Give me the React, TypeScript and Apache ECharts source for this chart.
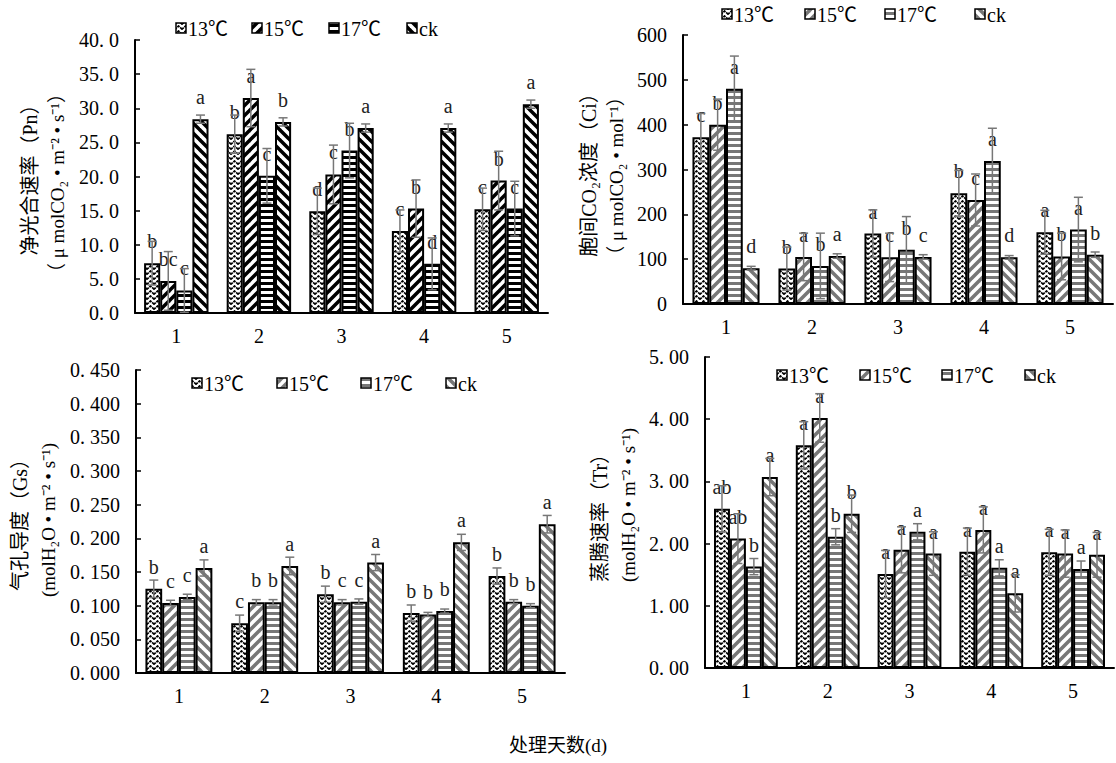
import React, { useEffect, useRef } from 'react';
import * as echarts from 'echarts';

const days = ['1', '2', '3', '4', '5'];
const treatments = ['13℃', '15℃', '17℃', 'ck'];

// 净光合速率 Pn
const pn13 = [7.3, 26.2, 14.9, 12.0, 15.2];
const pn15 = [4.7, 31.5, 20.3, 15.3, 19.4];
const pn17 = [3.3, 20.1, 23.8, 7.2, 15.3];
const pnCk = [28.4, 28.0, 27.1, 27.1, 30.6];
const pn13Err = [3.2, 2.8, 3.4, 3.1, 3.1];
const pn15Err = [4.3, 4.2, 4.3, 4.2, 4.3];
const pn17Err = [3.2, 4.0, 4.0, 3.8, 4.0];
const pnCkErr = [0.6, 0.6, 0.6, 0.6, 0.6];
const pn13Sig = ['b', 'b', 'd', 'c', 'c'];
const pn15Sig = ['bc', 'a', 'c', 'b', 'b'];
const pn17Sig = ['c', 'c', 'b', 'd', 'c'];
const pnCkSig = ['a', 'b', 'a', 'a', 'a'];

// 胞间CO2浓度 Ci
const ci13 = [372, 79, 157, 247, 160];
const ci15 = [400, 105, 104, 232, 106];
const ci17 = [480, 85, 121, 319, 166];
const ciCk = [80, 107, 105, 104, 110];
const ci13Err = [53, 48, 53, 51, 49];
const ci15Err = [57, 53, 54, 58, 52];
const ci17Err = [73, 73, 74, 73, 72];
const ciCkErr = [4, 5, 5, 4, 6];
const ci13Sig = ['c', 'b', 'a', 'b', 'a'];
const ci15Sig = ['b', 'a', 'c', 'c', 'b'];
const ci17Sig = ['a', 'b', 'b', 'a', 'a'];
const ciCkSig = ['d', 'a', 'c', 'd', 'b'];

// 气孔导度 Gs
const gs13 = [0.125, 0.074, 0.117, 0.089, 0.144];
const gs15 = [0.104, 0.105, 0.105, 0.087, 0.106];
const gs17 = [0.113, 0.105, 0.106, 0.092, 0.1];
const gsCk = [0.156, 0.159, 0.164, 0.194, 0.221];
const gs13Err = [0.013, 0.012, 0.012, 0.012, 0.012];
const gs15Err = [0.004, 0.004, 0.004, 0.003, 0.003];
const gs17Err = [0.004, 0.004, 0.004, 0.003, 0.003];
const gsCkErr = [0.012, 0.013, 0.012, 0.012, 0.013];
const gs13Sig = ['b', 'c', 'b', 'b', 'b'];
const gs15Sig = ['c', 'b', 'c', 'b', 'b'];
const gs17Sig = ['c', 'b', 'c', 'b', 'b'];
const gsCkSig = ['a', 'a', 'a', 'a', 'a'];

// 蒸腾速率 Tr
const tr13 = [2.56, 3.58, 1.51, 1.87, 1.86];
const tr15 = [2.08, 4.02, 1.9, 2.22, 1.84];
const tr17 = [1.63, 2.11, 2.19, 1.61, 1.59];
const trCk = [3.07, 2.48, 1.84, 1.2, 1.82];
const tr13Err = [0.37, 0.38, 0.38, 0.38, 0.37];
const tr15Err = [0.4, 0.39, 0.37, 0.37, 0.38];
const tr17Err = [0.13, 0.13, 0.13, 0.13, 0.13];
const trCkErr = [0.3, 0.3, 0.35, 0.3, 0.36];
const tr13Sig = ['ab', 'a', 'a', 'a', 'a'];
const tr15Sig = ['ab', 'a', 'a', 'a', 'a'];
const tr17Sig = ['b', 'b', 'a', 'a', 'a'];
const trCkSig = ['a', 'b', 'a', 'a', 'a'];

const yNames = [
  ['净光合速率（Pn）', '（ μ molCO₂ • m⁻² • s⁻¹）'],
  ['胞间CO₂浓度（Ci）', '（ μ molCO₂ • mol⁻¹）'],
  ['气孔导度（Gs）', '(molH₂O • m⁻² • s⁻¹)'],
  ['蒸腾速率（Tr）', '(molH₂O • m⁻² • s⁻¹)'],
];
const xTitle = '处理天数(d)';

const FONT = "'Liberation Serif', 'Noto Sans CJK SC', serif";
const GAP = 0.22;

function makePattern(w: number, h: number, draw: (ctx: CanvasRenderingContext2D) => void) {
  const c = document.createElement('canvas');
  c.width = w;
  c.height = h;
  const ctx = c.getContext('2d') as CanvasRenderingContext2D;
  ctx.fillStyle = '#fff';
  ctx.fillRect(0, 0, w, h);
  draw(ctx);
  return { image: c, repeat: 'repeat', imageWidth: w, imageHeight: h } as any;
}

function zigzag() {
  return makePattern(7, 5, (ctx) => {
    ctx.strokeStyle = '#000';
    ctx.lineWidth = 1.7;
    ctx.setLineDash([3, 0.8]);
    ctx.beginPath();
    ctx.moveTo(-0.5, 4.6);
    ctx.lineTo(3.5, 1);
    ctx.lineTo(7.5, 4.6);
    ctx.stroke();
  });
}

function hStripes(color: string, period: number, thick: number) {
  return makePattern(8, period, (ctx) => {
    ctx.fillStyle = color;
    ctx.fillRect(0, 0, 8, thick);
  });
}

function diag(color: string, period: number, thick: number, up: boolean) {
  return makePattern(period, period, (ctx) => {
    ctx.strokeStyle = color;
    ctx.lineWidth = thick;
    for (let k = -1; k <= 1; k++) {
      ctx.beginPath();
      if (up) {
        ctx.moveTo(k * period - 1, period + 1);
        ctx.lineTo(k * period + period + 1, -1);
      } else {
        ctx.moveTo(k * period - 1, -1);
        ctx.lineTo(k * period + period + 1, period + 1);
      }
      ctx.stroke();
    }
  });
}

export default function App() {
  const ref = useRef<HTMLDivElement>(null);
  useEffect(() => {
    if (!ref.current) return;
    const chart = echarts.init(ref.current, undefined, { renderer: 'svg' });

    const grey = '#777';
    const greySet = () => [zigzag(), diag(grey, 10, 3.5, true), hStripes(grey, 6, 3), diag(grey, 10, 3.5, false)];
    const patterns = [
      [zigzag(), diag('#000', 10, 3.5, true), hStripes('#000', 6, 3), diag('#000', 10, 3.5, false)],
      greySet(),
      greySet(),
      greySet(),
    ];

    const panels = [
      { values: [pn13, pn15, pn17, pnCk], errs: [pn13Err, pn15Err, pn17Err, pnCkErr], sigs: [pn13Sig, pn15Sig, pn17Sig, pnCkSig], max: 40, interval: 5, dec: 1 },
      { values: [ci13, ci15, ci17, ciCk], errs: [ci13Err, ci15Err, ci17Err, ciCkErr], sigs: [ci13Sig, ci15Sig, ci17Sig, ciCkSig], max: 600, interval: 100, dec: 0 },
      { values: [gs13, gs15, gs17, gsCk], errs: [gs13Err, gs15Err, gs17Err, gsCkErr], sigs: [gs13Sig, gs15Sig, gs17Sig, gsCkSig], max: 0.45, interval: 0.05, dec: 3 },
      { values: [tr13, tr15, tr17, trCk], errs: [tr13Err, tr15Err, tr17Err, trCkErr], sigs: [tr13Sig, tr15Sig, tr17Sig, trCkSig], max: 5, interval: 1, dec: 2 },
    ];

    const grids = [
      { left: 135, top: 40, width: 413, height: 273 },
      { left: 683, top: 35, width: 430, height: 269 },
      { left: 136, top: 370, width: 429, height: 303 },
      { left: 705, top: 357, width: 409, height: 311 },
    ];

    const nameLayout = [
      { x1: 30, y1: 175, x2: 57, y2: 183 },
      { x1: 589, y1: 170, x2: 616, y2: 176 },
      { x1: 20, y1: 520, x2: 48, y2: 520 },
      { x1: 600, y1: 513, x2: 628, y2: 505 },
    ];

    const legendLayout = [
      { y: 28, xs: [181, 257, 334, 412] },
      { y: 14, xs: [727, 810, 890, 980] },
      { y: 383, xs: [197, 282, 366, 451] },
      { y: 375, xs: [782, 865, 947, 1030] },
    ];

    const xAxis: any[] = [];
    const yAxis: any[] = [];
    const series: any[] = [];
    const graphic: any[] = [];

    panels.forEach((p, pi) => {
      xAxis.push({
        type: 'category',
        gridIndex: pi,
        data: days,
        axisLine: { lineStyle: { color: '#000', width: 2 } },
        axisTick: { inside: true, length: 5, lineStyle: { color: '#000', width: 1.5 } },
        axisLabel: { color: '#000', fontSize: 20, fontFamily: FONT, margin: 13 },
        splitLine: { show: false },
      });
      yAxis.push({
        type: 'value',
        gridIndex: pi,
        min: 0,
        max: p.max,
        interval: p.interval,
        axisLine: { show: true, lineStyle: { color: '#000', width: 2 } },
        axisTick: { show: true, inside: true, length: 5, lineStyle: { color: '#000', width: 1.5 } },
        axisLabel: {
          color: '#000',
          fontSize: 20,
          fontFamily: FONT,
          margin: 16,
          formatter: (v: number) => (p.dec === 0 ? String(Math.round(v)) : v.toFixed(p.dec).replace('.', '. ')),
        },
        splitLine: { show: false },
      });

      p.values.forEach((vals, si) => {
        series.push({
          type: 'bar',
          name: treatments[si],
          xAxisIndex: pi,
          yAxisIndex: pi,
          data: vals,
          barGap: '0%',
          barCategoryGap: GAP * 100 + '%',
          itemStyle: { color: patterns[pi][si], borderColor: '#000', borderWidth: 2 },
          label: {
            show: true,
            position: 'top',
            distance: 12,
            fontSize: 20,
            fontFamily: FONT,
            color: '#222',
            formatter: (prm: any) => p.sigs[si][prm.dataIndex],
          },
          emphasis: { disabled: true },
          silent: true,
          z: 2,
        });
      });

      const errData: number[][] = [];
      p.values.forEach((vals, si) => {
        vals.forEach((v, di) => errData.push([di, v, p.errs[si][di], si]));
      });
      series.push({
        type: 'custom',
        xAxisIndex: pi,
        yAxisIndex: pi,
        data: errData,
        encode: { x: 0, y: 1 },
        silent: true,
        z: 5,
        renderItem: (params: any, api: any) => {
          const cat = api.value(0);
          const val = api.value(1);
          const err = api.value(2);
          const idx = api.value(3);
          const band = api.size([1, 0])[0];
          const group = band * (1 - GAP);
          const bw = group / 4;
          const c = api.coord([cat, val]);
          const x = c[0] - group / 2 + bw * (idx + 0.5);
          const yt = api.coord([cat, val + err])[1];
          const yb = api.coord([cat, Math.max(val - err, 0)])[1];
          const st = { stroke: '#777', lineWidth: 1.5 };
          const cap = 4.5;
          return {
            type: 'group',
            children: [
              { type: 'line', shape: { x1: x, y1: yt, x2: x, y2: yb }, style: st },
              { type: 'line', shape: { x1: x - cap, y1: yt, x2: x + cap, y2: yt }, style: st },
              { type: 'line', shape: { x1: x - cap, y1: yb, x2: x + cap, y2: yb }, style: st },
            ],
          };
        },
      });

      // y-axis names
      const nl = nameLayout[pi];
      graphic.push({
        type: 'text',
        x: nl.x1,
        y: nl.y1,
        rotation: Math.PI / 2,
        style: { text: yNames[pi][0], font: `20px ${FONT}`, fill: '#000', align: 'center', verticalAlign: 'middle' },
      });
      graphic.push({
        type: 'text',
        x: nl.x2,
        y: nl.y2,
        rotation: Math.PI / 2,
        style: { text: yNames[pi][1], font: `19px ${FONT}`, fill: '#000', align: 'center', verticalAlign: 'middle' },
      });

      // legends
      const ll = legendLayout[pi];
      treatments.forEach((t, si) => {
        const lx = ll.xs[si];
        graphic.push({
          type: 'rect',
          shape: { x: lx - 5, y: ll.y - 5, width: 10, height: 10 },
          style: { fill: patterns[pi][si], stroke: '#000', lineWidth: 1.5 },
        });
        graphic.push({
          type: 'text',
          x: lx + 7,
          y: ll.y + 1,
          style: { text: t, font: `20px ${FONT}`, fill: '#000', align: 'left', verticalAlign: 'middle' },
        });
      });
    });

    graphic.push({
      type: 'text',
      x: 558,
      y: 745,
      style: { text: xTitle, font: `19px ${FONT}`, fill: '#000', align: 'center', verticalAlign: 'middle' },
    });

    chart.setOption({
      animation: false,
      backgroundColor: '#fff',
      grid: grids.map((g) => ({ ...g, containLabel: false })),
      xAxis,
      yAxis,
      series,
      graphic,
    });

    return () => chart.dispose();
  }, []);

  return (
    <div
      ref={ref}
      style={{ position: 'absolute', left: 0, top: 0, width: 1116, height: 763, background: '#fff' }}
    />
  );
}
